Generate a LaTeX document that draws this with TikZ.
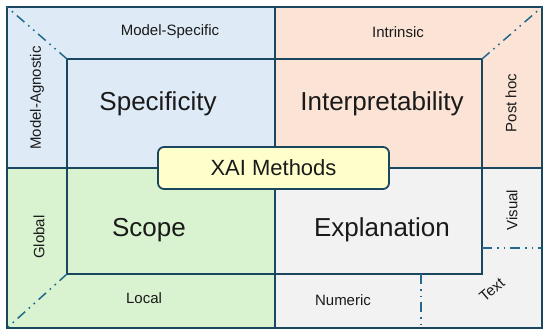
\documentclass[tikz,border=0pt]{standalone}
\usepackage{fontspec}
\setmainfont{Liberation Sans}

\definecolor{edgecol}{HTML}{1B4660}
\definecolor{dashcol}{HTML}{23698C}
\definecolor{specfill}{HTML}{DEEAF6}
\definecolor{interpfill}{HTML}{FBE3D6}
\definecolor{scopefill}{HTML}{D9F2D0}
\definecolor{explfill}{HTML}{F2F2F2}
\definecolor{xaifill}{HTML}{FFFFCC}
\definecolor{txtcol}{HTML}{1A1A1A}

\tikzset{
    quad/.style={draw=edgecol,line width=1.8pt},
    dashdot/.style={draw=dashcol,line width=1.5pt,
        dash pattern=on 10pt off 5pt on 1.6pt off 5pt on 1.6pt off 5pt},
    biglabel/.style={text=txtcol,font=\fontsize{26}{30}\selectfont},
    smalllabel/.style={text=txtcol,font=\fontsize{15}{18}\selectfont},
}

\begin{document}
\begin{tikzpicture}[x=1pt,y=-1pt]
    \useasboundingbox (0,0) rectangle (550,335);

    % Outer and inner corners
    \coordinate (otl) at (7,7);
    \coordinate (otr) at (542,7);
    \coordinate (obl) at (7,328);
    \coordinate (obr) at (542,328);
    \coordinate (itl) at (67,59);
    \coordinate (itr) at (482,59);
    \coordinate (ibl) at (67,274);
    \coordinate (ibr) at (482,274);
    \coordinate (mid) at (275,168);

    % Quadrants
    \fill[specfill] (otl) rectangle (mid);
    \fill[interpfill] (otr) rectangle (mid);
    \fill[scopefill] (obl) rectangle (mid);
    \fill[explfill] (obr) rectangle (mid);

    % Solid frame lines
    \draw[quad] (otl) rectangle (obr);
    \draw[quad] (itl) rectangle (ibr);
    \draw[quad] (otl -| mid) -- (obl -| mid);
    \draw[quad] (otl |- mid) -- (otr |- mid);

    % Dash-dot dividers
    \draw[dashdot] (itl) -- (otl);
    \draw[dashdot] (itr) -- (otr);
    \draw[dashdot] (ibl) -- (obl);
    \coordinate (vis) at (482,248);
    \coordinate (num) at (421,274);
    \draw[dashdot] (vis) -- (vis -| obr);
    \draw[dashdot] (num) -- (num |- obr);

    % Dimension labels
    \node[biglabel] (spec) at (158,104) {Specificity};
    \node[biglabel] (interp) at (382,104) {Interpretability};
    \node[biglabel] (scope) at (149,230) {Scope};
    \node[biglabel] (expl) at (382,230) {Explanation};

    % Category labels
    \node[smalllabel] (modspec) at (170,32) {Model-Specific};
    \node[smalllabel] (intr) at (398,32) {Intrinsic};
    \node[smalllabel,rotate=90] (modag) at (37,98) {Model-Agnostic};
    \node[smalllabel,rotate=90] (posthoc) at (511,103) {Post hoc};
    \node[smalllabel,rotate=90] (global) at (39,237) {Global};
    \node[smalllabel,rotate=90] (visual) at (512,210) {Visual};
    \node[smalllabel] (local) at (144,298) {Local};
    \node[smalllabel] (numeric) at (343,300) {Numeric};
    \node[smalllabel,rotate=40,inner sep=0pt] (text) at (492,290) {Text};

    % Centre box
    \node[draw=edgecol,line width=1.8pt,fill=xaifill,rounded corners=6pt,
        minimum width=231pt,minimum height=42pt,text=txtcol,
        font=\fontsize{22}{26}\selectfont] (xai) at (273.5,168) {XAI Methods};
\end{tikzpicture}
\end{document}
